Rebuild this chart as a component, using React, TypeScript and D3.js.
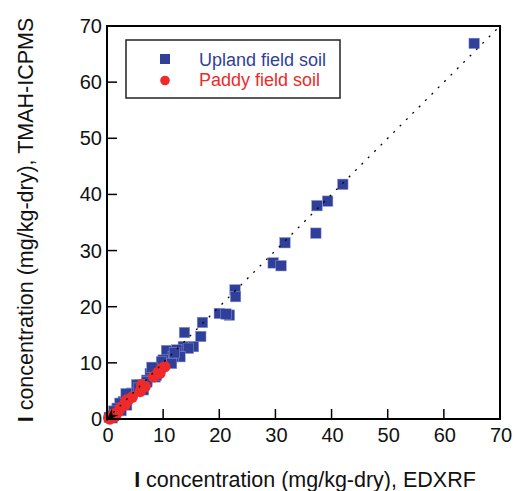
import React from "react";
import * as d3 from "d3";

const uplandX = [65.4, 42.0, 39.3, 37.4, 37.2, 31.7, 29.6, 31.0, 22.8, 22.9, 20.0, 21.8, 21.2, 17.0, 16.7, 13.8, 13.6, 15.4, 14.5, 12.4, 10.6, 13.0, 11.8, 10.0, 11.5, 9.7, 9.4, 7.7, 8.6, 8.8, 7.1, 7.1, 5.9, 5.3, 6.5, 4.4, 4.1, 2.9, 2.3, 3.5, 1.8, 1.2, 2.5, 0.8, 1.5, 0.4, 0.9, 3.4, 5.6, 8.0, 12.0];
const uplandY = [66.9, 41.8, 38.8, 38.0, 33.1, 31.4, 27.8, 27.3, 23.0, 21.8, 18.8, 18.5, 18.7, 17.2, 14.7, 15.4, 12.9, 12.9, 12.6, 12.3, 12.2, 11.1, 11.1, 10.5, 9.9, 10.2, 8.7, 8.1, 7.5, 7.8, 6.9, 6.6, 6.1, 6.1, 5.2, 4.6, 4.0, 3.1, 2.8, 2.5, 1.9, 1.4, 1.5, 0.6, 0.8, 0.3, 0.2, 4.5, 5.5, 9.2, 11.8];
const paddyX = [10.3, 9.7, 9.4, 9.1, 8.3, 6.8, 6.2, 5.9, 6.2, 3.8, 3.5, 3.2, 3.2, 2.0, 1.7, 1.4, 0.5, 1.0, 0.7, 2.4, 4.5, 0.3, 1.2];
const paddyY = [9.3, 9.0, 8.1, 8.3, 7.5, 5.8, 6.1, 4.9, 5.6, 3.4, 3.4, 2.8, 2.5, 1.3, 1.0, 0.4, 0.0, 0.7, 0.3, 2.0, 3.9, 0.2, 0.9];
const ticks = [0, 10, 20, 30, 40, 50, 60, 70];
const legendLabels = ["Upland field soil", "Paddy field soil"];

const BLUE = "#2f3f9a";
const RED = "#ee2a2a";
const FONT = "'Liberation Sans', Arial, Helvetica, sans-serif";

export default function App() {
  const W = 515, H = 491;
  const x0 = 107, x1 = 500, y0 = 419, y1 = 26;
  const x = d3.scaleLinear().domain([0, 70]).range([x0, x1]);
  const y = d3.scaleLinear().domain([0, 70]).range([y0, y1]);
  const sq = 10.5;
  const ox = x(0) - 1, oy = y(0) + 2;
  return (
    <svg width={W} height={H} style={{ position: "absolute", left: 0, top: 0 }} fontFamily={FONT}>
      <rect x={0} y={0} width={W} height={H} fill="#fff" />
      {uplandX.map((v, i) => (
        <rect key={"u" + i} x={x(v) - sq / 2} y={y(uplandY[i]) - sq / 2} width={sq} height={sq} fill={BLUE} stroke="#8f9ad0" strokeWidth={0.5} />
      ))}
      {paddyX.map((v, i) => (
        <circle key={"p" + i} cx={x(v)} cy={y(paddyY[i])} r={5.7} fill={RED} />
      ))}
      <line x1={x(0)} y1={y(0)} x2={x(70)} y2={y(70)} stroke="#000" strokeWidth={1.3} strokeDasharray="2 7" />
      <path transform={`translate(${ox},${oy}) rotate(-45)`} d="M0,0 L13,-4.5 L9,0 L13,4.5 Z" fill="#000" />
      {/* frame */}
      <rect x={x0} y={y1} width={x1 - x0} height={y0 - y1} fill="none" stroke="#000" strokeWidth={2} />
      {ticks.slice(1, -1).map((t) => (
        <g key={"t" + t}>
          <line x1={x(t)} x2={x(t)} y1={y0} y2={y0 - 10} stroke="#000" strokeWidth={1.5} />
          <line x1={x0} x2={x0 + 10} y1={y(t)} y2={y(t)} stroke="#000" strokeWidth={1.5} />
        </g>
      ))}
      {ticks.map((t) => (
        <text key={"xl" + t} x={x(t) + 1} y={442} fontSize={20} textAnchor="middle" fill="#111">{t}</text>
      ))}
      {ticks.map((t) => (
        <text key={"yl" + t} x={102} y={y(t)} dy="0.35em" fontSize={20} textAnchor="end" fill="#111">{t}</text>
      ))}
      <text x={305} y={487} fontSize={21.5} textAnchor="middle" fill="#111">
        <tspan fontWeight="bold">I</tspan> concentration (mg/kg-dry), EDXRF
      </text>
      <text transform="translate(33,220) rotate(-90)" fontSize={21.5} textAnchor="middle" fill="#111">
        <tspan fontWeight="bold">I</tspan> concentration (mg/kg-dry), TMAH-ICPMS
      </text>
      {/* legend */}
      <rect x={126} y={40} width={214} height={58} fill="#fff" stroke="#222" strokeWidth={1.5} />
      <rect x={160} y={54} width={10} height={10} fill={BLUE} />
      <circle cx={165} cy={80.5} r={4.8} fill={RED} />
      <text x={199} y={65.5} fontSize={18} fill={BLUE}>{legendLabels[0]}</text>
      <text x={199} y={86} fontSize={18} fill={RED}>{legendLabels[1]}</text>
    </svg>
  );
}
